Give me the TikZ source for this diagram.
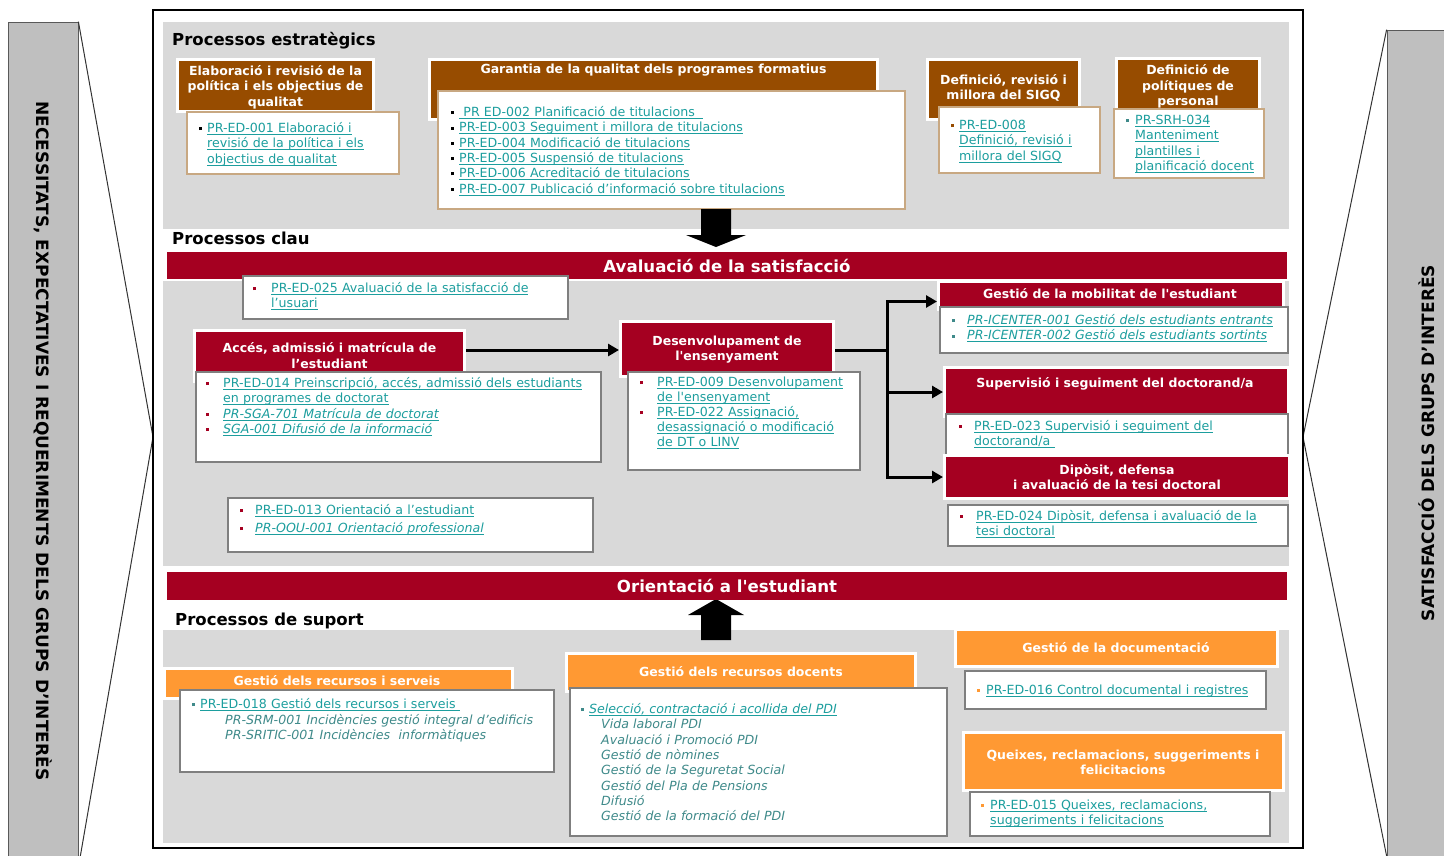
\documentclass[tikz,border=0pt]{standalone}
\usepackage{fontspec}
\setmainfont{DejaVu Sans}
\usetikzlibrary{arrows.meta,calc}
\definecolor{brownc}{HTML}{974C00}
\definecolor{redc}{HTML}{A50021}
\definecolor{orangec}{HTML}{FF9933}
\definecolor{bggray}{HTML}{D9D9D9}
\definecolor{sidegray}{HTML}{BFBFBF}
\definecolor{tanc}{HTML}{C8A882}
\definecolor{boxgray}{HTML}{7F7F7F}
\definecolor{linkc}{HTML}{1C9E9E}
\definecolor{plainc}{HTML}{3F8A8A}
\newcommand\ulbox[1]{\setbox0\hbox{#1}\rlap{\rule[-2.3pt]{\wd0}{0.8pt}}\box0}
\newcommand\lk[1]{\textcolor{linkc}{\ulbox{#1}}}
\newcommand\lki[1]{\textcolor{linkc}{\ulbox{\itshape #1}}}
\newcommand\pit[1]{\textcolor{plainc}{\itshape #1}}
\newcommand\bl[2]{\makebox[#1pt][l]{\textcolor{#2}{\rule[2.3pt]{3pt}{3pt}}}}
\newcommand\ind[1]{\hspace*{#1pt}}
\newcommand\sq{\textquotesingle}
\newcommand\itemf{\fontsize{12.6}{15.3}\selectfont}
\newcommand\titlef{\fontsize{12.5}{15.5}\selectfont\bfseries}
\newcommand\secf{\fontsize{16.5}{19}\selectfont\bfseries}
\newcommand\barf{\fontsize{16.6}{19}\selectfont\bfseries}
\newcommand\sidef{\fontsize{17}{19}\selectfont\bfseries}
\newcommand\boxat[6]{\node[#2, minimum width={#5-#3}, minimum height={#6-#4}] (#1) at ({(#3+#5)/2},{(#4+#6)/2}) {};}
\newcommand\hdrat[6]{\node[#2, minimum width={#5-#3+3}, minimum height={#6-#4+3}] (#1) at ({(#3+#5)/2},{(#4+#6)/2}) {};}
\tikzset{
  sectbg/.style={fill=bggray, draw=none, inner sep=0pt},
  hdr/.style={draw=white, line width=3pt, inner sep=0pt},
  brownhdr/.style={hdr, fill=brownc},
  redhdr/.style={hdr, fill=redc},
  orangehdr/.style={hdr, fill=orangec},
  tanbox/.style={draw=tanc, fill=white, line width=1.2pt, inner sep=0pt},
  graybox/.style={draw=boxgray, fill=white, line width=1.2pt, inner sep=0pt},
  ttl/.style={text=white, font=\titlef, align=center, inner sep=0pt},
  itemtxt/.style={anchor=base west, inner sep=0pt, text width=420pt, align=left, font=\itemf},
  redbar/.style={fill=redc, inner sep=0pt, text=white, font=\barf},
  seclabel/.style={anchor=base west, inner sep=0pt, font=\secf},
  sidepanel/.style={fill=sidegray, draw=black!65, line width=0.8pt, inner sep=0pt},
  framest/.style={draw=black, line width=1.3pt, inner sep=0pt},
  chev/.style={draw=black!80, line width=1pt},
  flowline/.style={line width=3pt},
  flowarr/.style={line width=3pt, -{Triangle[length=11pt,width=12pt]}},
}
\begin{document}
\begin{tikzpicture}[x=1pt,y=-1pt]
\useasboundingbox (0,0) rectangle (1444,855);
% side panels
\boxat{leftp}{sidepanel}{8}{22}{78}{860}
\boxat{rightp}{sidepanel}{1387}{30}{1448}{860}
\coordinate (tipL) at (153,437);
\coordinate (endL) at (80,858);
\coordinate (tipR) at (1303,437);
\coordinate (endR) at (1387,858);
\draw[chev] (leftp.north east) -- (tipL) -- (endL);
\draw[chev] (rightp.north west) -- (tipR) -- (endR);
\node[rotate=-90, font=\sidef, inner sep=0pt] (nec) at (43,441) {NECESSITATS, EXPECTATIVES I REQUERIMENTS DELS GRUPS D’INTERÈS};
\node[rotate=90, font=\sidef, inner sep=0pt] (sat) at (1427,443) {SATISFACCIÓ DELS GRUPS D’INTERÈS};
% main frame
\boxat{frame}{framest}{153}{10}{1303}{848}
% sections
\boxat{secE}{sectbg}{163}{22}{1289}{229}
\boxat{secC}{sectbg}{163}{281}{1289}{566}
\boxat{secS}{sectbg}{163}{630}{1289}{843}
\node[seclabel] (labE) at (172,45) {Processos estratègics};
\node[seclabel] (labC) at (172,244) {Processos clau};
\node[seclabel] (labS) at (175,625) {Processos de suport};

% ---------- strategic ----------
\hdrat{elab}{brownhdr}{179}{61}{372}{110}
\node[ttl] (elabt) at (275.5,87) {Elaboració i revisió de la\\política i els objectius de\\qualitat};
\boxat{elabc}{tanbox}{187}{112}{399}{174}
\node[itemtxt] (elabi) at (199,132.5) {\bl{8}{black}\lk{PR-ED-001 Elaboració i}\\\ind{8}\lk{revisió de la política i els}\\\ind{8}\lk{objectius de qualitat}};

\hdrat{gar}{brownhdr}{431}{61}{876}{118}
\node[ttl] (gart) at (653.5,70.5) {Garantia de la qualitat dels programes formatius};
\boxat{garc}{tanbox}{438}{91}{905}{209}
\node[itemtxt] (gari) at (451,116.5) {\bl{8}{black}\lk{\ PR ED-002 Planificació de titulacions\ \ }\\
\bl{8}{black}\lk{PR-ED-003 Seguiment i millora de titulacions}\\
\bl{8}{black}\lk{PR-ED-004 Modificació de titulacions}\\
\bl{8}{black}\lk{PR-ED-005 Suspensió de titulacions}\\
\bl{8}{black}\lk{PR-ED-006 Acreditació de titulacions}\\
\bl{8}{black}\lk{PR-ED-007 Publicació d’informació sobre titulacions}};

\hdrat{sigq}{brownhdr}{929}{61}{1078}{118}
\node[ttl] (sigqt) at (1003.5,88) {Definició, revisió i\\millora del SIGQ};
\boxat{sigqc}{tanbox}{939}{107}{1100}{173}
\node[itemtxt] (sigqi) at (951,129.5) {\bl{8}{brownc}\lk{PR-ED-008}\\\ind{8}\lk{Definició, revisió i}\\\ind{8}\lk{millora del SIGQ}};

\hdrat{pers}{brownhdr}{1118}{60}{1258}{112}
\node[ttl] (perst) at (1188,86.5) {Definició de\\polítiques de\\personal};
\boxat{persc}{tanbox}{1114}{109}{1264}{178}
\node[itemtxt] (persi) at (1126,124.5) {\bl{9}{plainc}\lk{PR-SRH-034}\\\ind{9}\lk{Manteniment}\\\ind{9}\lk{plantilles i}\\\ind{9}\lk{planificació docent}};

% block arrows
\fill[black] (701,209) -- (731,209) -- (731,235) -- (746,235) -- (716,247) -- (686,235) -- (701,235) -- cycle;
\fill[black] (701,640) -- (731,640) -- (731,615) -- (744,615) -- (716,599) -- (688,615) -- (701,615) -- cycle;

% ---------- key processes ----------
\node[redbar, minimum width=1120, minimum height=27] (aval) at (727,265.5) {Avaluació de la satisfacció};
\boxat{satc}{graybox}{243}{276}{568}{319}
\node[itemtxt] (sati) at (253,292.5) {\bl{18}{redc}\lk{PR-ED-025 Avaluació de la satisfacció de}\\\ind{18}\lk{l’usuari}};

\hdrat{acc}{redhdr}{196}{332}{463}{380}
\node[ttl] (acct) at (329.5,355.5) {Accés, admissió i matrícula de\\l’estudiant};
\boxat{accc}{graybox}{196}{372}{601}{462}
\node[itemtxt] (acci) at (206,387.5) {\bl{17}{redc}\lk{PR-ED-014 Preinscripció, accés, admissió dels estudiants}\\
\ind{17}\lk{en programes de doctorat}\\
\bl{17}{redc}\lki{PR-SGA-701 Matrícula de doctorat}\\
\bl{17}{redc}\lki{SGA-001 Difusió de la informació}};

\hdrat{des}{redhdr}{622}{323}{832}{375}
\node[ttl] (dest) at (727,349.5) {Desenvolupament de\\l\sq ensenyament};
\boxat{desc}{graybox}{628}{372}{860}{470}
\node[itemtxt, font=\fontsize{12.6}{15}\selectfont] (desi) at (640,386.5) {\bl{17}{redc}\lk{PR-ED-009 Desenvolupament}\\\ind{17}\lk{de l\sq ensenyament}\\\bl{17}{redc}\lk{PR-ED-022 Assignació,}\\\ind{17}\lk{desassignació o modificació}\\\ind{17}\lk{de DT o LINV}};

\hdrat{mob}{redhdr}{940}{283}{1282}{308}
\node[ttl] (mobt) at (1110,293.5) {Gestió de la mobilitat de l\sq estudiant};
\boxat{mobc}{graybox}{940}{307}{1288}{353}
\node[itemtxt] (mobi) at (952,324.5) {\bl{15}{plainc}\lki{PR-ICENTER-001 Gestió dels estudiants entrants}\\\bl{15}{plainc}\lki{PR-ICENTER-002 Gestió dels estudiants sortints}};

\hdrat{sup}{redhdr}{946}{369}{1287}{415}
\node[ttl] (supt) at (1115,384) {Supervisió i seguiment del doctorand/a};
\boxat{supc}{graybox}{946}{414}{1288}{456}
\node[itemtxt] (supi) at (959,430.5) {\bl{15}{redc}\lk{PR-ED-023 Supervisió i seguiment del}\\\ind{15}\lk{doctorand/a\ }};

\hdrat{dip}{redhdr}{946}{457}{1288}{497}
\node[ttl] (dipt) at (1117,477) {Dipòsit, defensa\\i avaluació de la tesi doctoral};
\boxat{dipc}{graybox}{948}{505}{1288}{546}
\node[itemtxt] (dipi) at (960,520.5) {\bl{16}{redc}\lk{PR-ED-024 Dipòsit, defensa i avaluació de la}\\\ind{16}\lk{tesi doctoral}};

\boxat{oric}{graybox}{228}{498}{593}{552}
\node[itemtxt] (orii) at (240,514.5) {\bl{15}{redc}\lk{PR-ED-013 Orientació a l’estudiant}\\[2.7pt]\bl{15}{redc}\lki{PR-OOU-001 Orientació professional}};

% flow arrows
\coordinate (jn) at (887,350);
\draw[flowarr] (acc.east |- jn) -- (des.west |- jn);
\draw[flowline] (des.east |- jn) -- (jn);
\draw[flowarr] (jn) |- ([yshift=-6pt]mob.west);
\draw[flowarr] (jn) |- (sup.west);
\draw[flowarr] (jn) |- (dip.west);

\node[redbar, minimum width=1120, minimum height=28] (orient) at (727,586) {Orientació a l\sq estudiant};

% ---------- support ----------
\hdrat{rs}{orangehdr}{166}{670}{511}{697}
\node[ttl] (rst) at (337,680.5) {Gestió dels recursos i serveis};
\boxat{rsc}{graybox}{180}{690}{554}{772}
\node[itemtxt, font=\fontsize{12.6}{15.5}\selectfont] (rsi) at (192,708.5) {\bl{8}{plainc}\lk{PR-ED-018 Gestió dels recursos i serveis\ }\\\ind{33}\pit{PR-SRM-001 Incidències gestió integral d’edificis}\\\ind{33}\pit{PR-SRITIC-001 Incidències\ \ informàtiques}};

\hdrat{rd}{orangehdr}{568}{655}{914}{690}
\node[ttl] (rdt) at (741,672) {Gestió dels recursos docents};
\boxat{rdc}{graybox}{570}{688}{947}{836}
\node[itemtxt] (rdi) at (581,713.5) {\bl{8}{plainc}\lki{Selecció, contractació i acollida del PDI}\\
\ind{20}\pit{Vida laboral PDI}\\
\ind{20}\pit{Avaluació i Promoció PDI}\\
\ind{20}\pit{Gestió de nòmines}\\
\ind{20}\pit{Gestió de la Seguretat Social}\\
\ind{20}\pit{Gestió del Pla de Pensions}\\
\ind{20}\pit{Difusió}\\
\ind{20}\pit{Gestió de la formació del PDI}};

\hdrat{doc}{orangehdr}{957}{631}{1276}{665}
\node[ttl] (doct) at (1116,648) {Gestió de la documentació};
\boxat{docc}{graybox}{965}{671}{1266}{709}
\node[itemtxt] (doci) at (977,694.5) {\bl{9}{orangec}\lk{PR-ED-016 Control documental i registres}};

\hdrat{qx}{orangehdr}{965}{734}{1282}{789}
\node[ttl] (qxt) at (1123,762.5) {Queixes, reclamacions, suggeriments i\\felicitacions};
\boxat{qxc}{graybox}{970}{792}{1270}{836}
\node[itemtxt] (qxi) at (981,809.5) {\bl{9}{orangec}\lk{PR-ED-015 Queixes, reclamacions,}\\\ind{9}\lk{suggeriments i felicitacions}};
\end{tikzpicture}
\end{document}
